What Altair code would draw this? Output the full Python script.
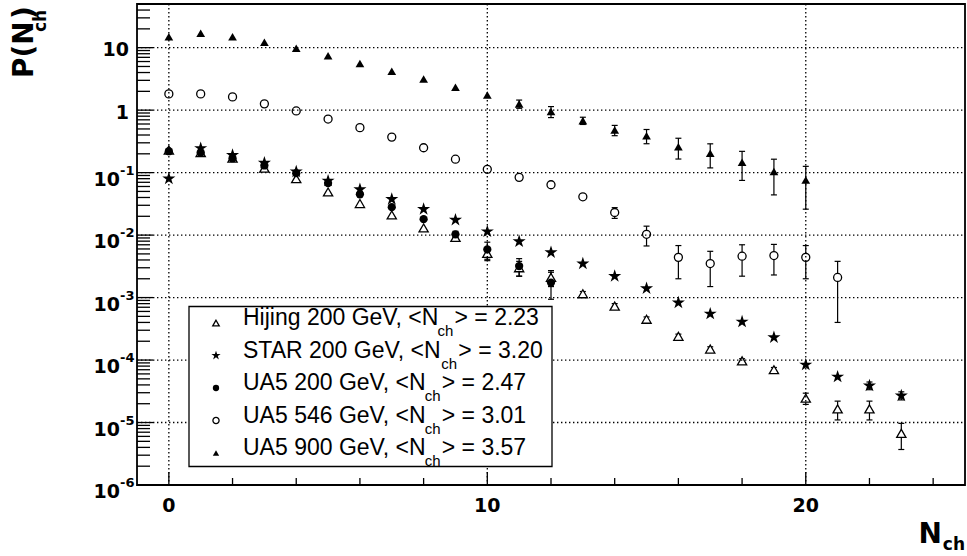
import altair as alt
import pandas as pd

# ---------------------------------------------------------------
# Charged-multiplicity distributions P(N_ch)
# ---------------------------------------------------------------
N_HIJING = list(range(24))
P_HIJING = [0.23, 0.21, 0.17, 0.118, 0.080, 0.049, 0.032, 0.021, 0.013, 0.0092,
            0.0051, 0.0030, 0.0021, 0.00115, 0.00073, 0.00045, 0.00024, 0.00015,
            0.000097, 0.000070, 0.0000245, 0.0000165, 0.0000165, 0.0000067]
E_HIJING = [0, 0, 0, 0, 0, 0, 0, 0, 0, 0.0009,
            0.0012, 0.0008, 0.0006, 0.0001, 0.00007, 0.00004, 0.00002, 0.000013,
            0.000008, 0.000006, 0.000005, 0.0000055, 0.0000055, 0.000003]

N_STAR = list(range(24))
P_STAR = [0.080, 0.245, 0.19, 0.143, 0.104, 0.074, 0.054, 0.0375, 0.026, 0.0175,
          0.0114, 0.0079, 0.0053, 0.0035, 0.0022, 0.0014, 0.00083, 0.00055,
          0.00041, 0.00023, 0.000084, 0.000054, 0.000039, 0.000027]
E_STAR = [0] * 22 + [0.0000055, 0.000004]

N_UA5_200 = list(range(13))
P_UA5_200 = [0.22, 0.21, 0.17, 0.13, 0.098, 0.068, 0.045, 0.028, 0.018, 0.0103,
             0.0059, 0.0032, 0.00174]
E_UA5_200 = [0, 0, 0, 0, 0, 0, 0, 0, 0, 0.0012, 0.0018, 0.001, 0.0008]

N_UA5_546 = list(range(22))
P_UA5_546 = [1.82, 1.82, 1.63, 1.26, 0.97, 0.72, 0.525, 0.37, 0.25, 0.164,
             0.113, 0.084, 0.064, 0.041, 0.023, 0.0103, 0.0044, 0.0035, 0.0046,
             0.0047, 0.0044, 0.0021]
E_UA5_546 = [0] * 14 + [0.0045, 0.0036, 0.0024, 0.0020, 0.0024, 0.0024, 0.0024, 0.0017]

N_UA5_900 = list(range(21))
P_UA5_900 = [15, 17, 15, 12.2, 9.8, 7.4, 5.6, 4.2, 3.15, 2.32, 1.75, 1.26, 0.95,
             0.68, 0.48, 0.39, 0.26, 0.204, 0.147, 0.104, 0.076]
E_UA5_900 = [0] * 11 + [0.19, 0.19, 0.09, 0.09, 0.1, 0.095, 0.085, 0.072, 0.06, 0.05]

SERIES_NAMES = ["Hijing 200 GeV", "STAR 200 GeV", "UA5 200 GeV", "UA5 546 GeV", "UA5 900 GeV"]
MEAN_NCH = [2.23, 3.20, 2.47, 3.01, 3.57]
SERIES_DATA = [
    (N_HIJING, P_HIJING, E_HIJING),
    (N_STAR, P_STAR, E_STAR),
    (N_UA5_200, P_UA5_200, E_UA5_200),
    (N_UA5_546, P_UA5_546, E_UA5_546),
    (N_UA5_900, P_UA5_900, E_UA5_900),
]

# axis ticks / labels
X_MAJOR = [0, 10, 20]
X_MINOR = [2, 4, 6, 8, 12, 14, 16, 18, 22, 24]
X_LABELS = ["0", "10", "20"]
Y_PLAIN = [1, 10]
Y_PLAIN_LABELS = ["1", "10"]
Y_EXP_VALUES = [1e-6, 1e-5, 1e-4, 1e-3, 1e-2, 1e-1]
Y_EXP_LABELS = ["-6", "-5", "-4", "-3", "-2", "-1"]
Y_DECADES = Y_EXP_VALUES + Y_PLAIN
Y_MINOR = [k * 10.0 ** d for d in range(-6, 2) for k in range(2, 10) if k * 10.0 ** d <= 50]

# ---------------------------------------------------------------
# layout / style
# ---------------------------------------------------------------
W, H = 828, 481
X_DOMAIN = [-1, 25]
Y_DOMAIN = [1e-6, 50]
LABEL_FONT = "DejaVu Sans"
LEGEND_FONT = "Liberation Sans"
INK = "black"

# five-pointed star in the unit box
STAR_PATH = ("M0,-1L0.2245,-0.309L0.951,-0.309L0.363,0.118L0.588,0.809L0,0.382"
             "L-0.588,0.809L-0.363,0.118L-0.951,-0.309L-0.2245,-0.309Z")

STYLE = {
    "Hijing 200 GeV": dict(shape="triangle-up", open=True, size=85, lsize=42),
    "STAR 200 GeV": dict(shape=STAR_PATH, open=False, size=190, lsize=95),
    "UA5 200 GeV": dict(shape="circle", open=False, size=68, lsize=40),
    "UA5 546 GeV": dict(shape="circle", open=True, size=64, lsize=38),
    "UA5 900 GeV": dict(shape="triangle-up", open=False, size=76, lsize=40),
}

xs = alt.Scale(domain=X_DOMAIN, nice=False, zero=False)
ys = alt.Scale(type="log", domain=Y_DOMAIN, nice=False)


def X(field):
    return alt.X(field, type="quantitative", scale=xs, axis=None)


def Y(field):
    return alt.Y(field, type="quantitative", scale=ys, axis=None)


def point_mark(style, size):
    if style["open"]:
        return dict(shape=style["shape"], filled=True, fill="white",
                    stroke=INK, strokeWidth=1.3, size=size, opacity=1)
    return dict(shape=style["shape"], filled=True, fill=INK,
                strokeWidth=0, size=size, opacity=1)


# Helvetica/Arial advance widths (1/1000 em) for the legend strings
ARIAL_WIDTHS = {" ": 278, ",": 278, ".": 278, "<": 584, ">": 584, "=": 584,
                "A": 667, "G": 778, "H": 722, "N": 722, "R": 722, "S": 667,
                "T": 611, "U": 722, "V": 667, "e": 556, "g": 556, "i": 222,
                "j": 222, "n": 556, "c": 500, "h": 556}
for d in "0123456789":
    ARIAL_WIDTHS[d] = 556


def text_width(s, size):
    return sum(ARIAL_WIDTHS.get(c, 556) for c in s) * size / 1000.0


# ---------------------------------------------------------------
# data layers
# ---------------------------------------------------------------
err_layers, cap_layers, marker_layers = [], [], []
for name, (ns, ps, es) in zip(SERIES_NAMES, SERIES_DATA):
    df = pd.DataFrame({"n": ns, "p": ps, "e": es})
    df["lo"] = df["p"] - df["e"]
    df["hi"] = df["p"] + df["e"]
    dfe = df[df["e"] > 0]
    if len(dfe):
        base = alt.Chart(dfe)
        err_layers.append(base.mark_rule(color=INK, strokeWidth=1.2).encode(
            x=X("n"), y=Y("lo"), y2="hi"))
        cap_layers.append(base.mark_tick(orient="horizontal", size=6, thickness=1.2,
                                         color=INK, opacity=1).encode(x=X("n"), y=Y("lo")))
        cap_layers.append(base.mark_tick(orient="horizontal", size=6, thickness=1.2,
                                         color=INK, opacity=1).encode(x=X("n"), y=Y("hi")))
    st = STYLE[name]
    marker_layers.append(alt.Chart(df).mark_point(**point_mark(st, st["size"])).encode(
        x=X("n"), y=Y("p")))

# ---------------------------------------------------------------
# grid, ticks and frame
# ---------------------------------------------------------------
grid_style = dict(color=INK, strokeWidth=1.3, strokeDash=[1.4, 2.6])
hgrid = alt.Chart(pd.DataFrame({"v": Y_DECADES[1:]})).mark_rule(**grid_style).encode(
    y=Y("v"), x=alt.value(0), x2=alt.value(W))
vgrid = alt.Chart(pd.DataFrame({"v": X_MAJOR})).mark_rule(**grid_style).encode(
    x=X("v"), y=alt.value(0), y2=alt.value(H))

tick_style = dict(color=INK, strokeWidth=1.3)
y_major_ticks = alt.Chart(pd.DataFrame({"v": Y_DECADES})).mark_rule(**tick_style).encode(
    y=Y("v"), x=alt.value(0), x2=alt.value(16))
y_minor_ticks = alt.Chart(pd.DataFrame({"v": Y_MINOR})).mark_rule(**tick_style).encode(
    y=Y("v"), x=alt.value(0), x2=alt.value(13))
x_major_ticks = alt.Chart(pd.DataFrame({"v": X_MAJOR})).mark_rule(**tick_style).encode(
    x=X("v"), y=alt.value(H), y2=alt.value(H - 13))
x_minor_ticks = alt.Chart(pd.DataFrame({"v": X_MINOR})).mark_rule(**tick_style).encode(
    x=X("v"), y=alt.value(H), y2=alt.value(H - 7))

frame = alt.Chart(pd.DataFrame({"a": [0]})).mark_rect(
    fill=None, fillOpacity=0, stroke=INK, strokeWidth=1.8).encode(
    x=alt.value(0), x2=alt.value(W), y=alt.value(0), y2=alt.value(H))

# ---------------------------------------------------------------
# tick labels and axis titles
# ---------------------------------------------------------------
lab = dict(font=LABEL_FONT, fontWeight="bold", color=INK)
x_labels = alt.Chart(pd.DataFrame({"v": X_MAJOR, "t": X_LABELS})).mark_text(
    align="center", baseline="middle", fontSize=19, **lab).encode(
    x=X("v"), y=alt.value(H + 21), text="t:N")
y_plain = alt.Chart(pd.DataFrame({"v": Y_PLAIN, "t": Y_PLAIN_LABELS})).mark_text(
    align="right", baseline="middle", dy=2.5, fontSize=19, **lab).encode(
    x=alt.value(-8), y=Y("v"), text="t:N")
y_exp_base = alt.Chart(pd.DataFrame({"v": Y_EXP_VALUES, "t": ["10"] * len(Y_EXP_VALUES)})).mark_text(
    align="right", baseline="middle", dy=7, fontSize=19, **lab).encode(
    x=alt.value(-17), y=Y("v"), text="t:N")
y_exp_sup = alt.Chart(pd.DataFrame({"v": Y_EXP_VALUES, "t": Y_EXP_LABELS})).mark_text(
    align="left", baseline="middle", dy=-2, fontSize=13, **lab).encode(
    x=alt.value(-17), y=Y("v"), text="t:N")


def piece(text, x, y, size, angle=0, align="left"):
    d = pd.DataFrame({"t": [text]})
    kw = dict(align=align, baseline="alphabetic", fontSize=size, **lab)
    if angle:
        kw["angle"] = angle
    return alt.Chart(d).mark_text(**kw).encode(x=alt.value(x), y=alt.value(y), text="t:N")


x_title = [piece("N", 805, 539, 28, align="right"),
           piece("ch", 828, 546, 17, align="right")]
y_title = [piece("P(N", -104, 74, 28, angle=270),
           piece("ch", -91, 28, 17, angle=270),
           piece(")", -104, 15, 28, angle=270)]

# ---------------------------------------------------------------
# legend
# ---------------------------------------------------------------
LEG_X0, LEG_X1, LEG_Y0, LEG_Y1 = 52, 415, 302.5, 462.5
LEG_SYM_X, LEG_TEXT_X = 79, 106
LEG_ROW0, LEG_ROW_STEP = 321, 32.5
LEG_FS, LEG_SUB_FS = 23, 15

legend_box = alt.Chart(pd.DataFrame({"a": [0]})).mark_rect(
    fill="white", stroke=INK, strokeWidth=1.3).encode(
    x=alt.value(LEG_X0), x2=alt.value(LEG_X1), y=alt.value(LEG_Y0), y2=alt.value(LEG_Y1))

legend_layers = [legend_box]
for i, (name, mean) in enumerate(zip(SERIES_NAMES, MEAN_NCH)):
    ly = LEG_ROW0 + i * LEG_ROW_STEP
    st = STYLE[name]
    legend_layers.append(
        alt.Chart(pd.DataFrame({"a": [0]})).mark_point(**point_mark(st, st["lsize"])).encode(
            x=alt.value(LEG_SYM_X), y=alt.value(ly - 2)))
    prefix = f"{name}, <N"
    rest = f"> = {mean:.2f}"
    end = LEG_TEXT_X + text_width(prefix, LEG_FS)
    for txt, x, y, fs in [(prefix, LEG_TEXT_X, ly, LEG_FS),
                          ("ch", end - 3, ly + 11, LEG_SUB_FS),
                          (rest, end + 14, ly, LEG_FS)]:
        legend_layers.append(
            alt.Chart(pd.DataFrame({"t": [txt]})).mark_text(
                align="left", baseline="alphabetic", font=LEGEND_FONT, fontSize=fs, color=INK).encode(
                x=alt.value(x), y=alt.value(y), text="t:N"))

chart = alt.layer(
    *err_layers, *cap_layers, *marker_layers,
    hgrid, vgrid,
    y_major_ticks, y_minor_ticks, x_major_ticks, x_minor_ticks, frame,
    x_labels, y_plain, y_exp_base, y_exp_sup,
    *x_title, *y_title,
    *legend_layers,
).properties(
    width=W, height=H,
    autosize=alt.AutoSizeParams(type="none"),
    padding={"left": 137, "top": 4, "right": 2, "bottom": 71},
).configure_view(
    stroke=None
).configure(background="white")

chart.save("out.html", embed_options={"renderer": "svg", "actions": False})
